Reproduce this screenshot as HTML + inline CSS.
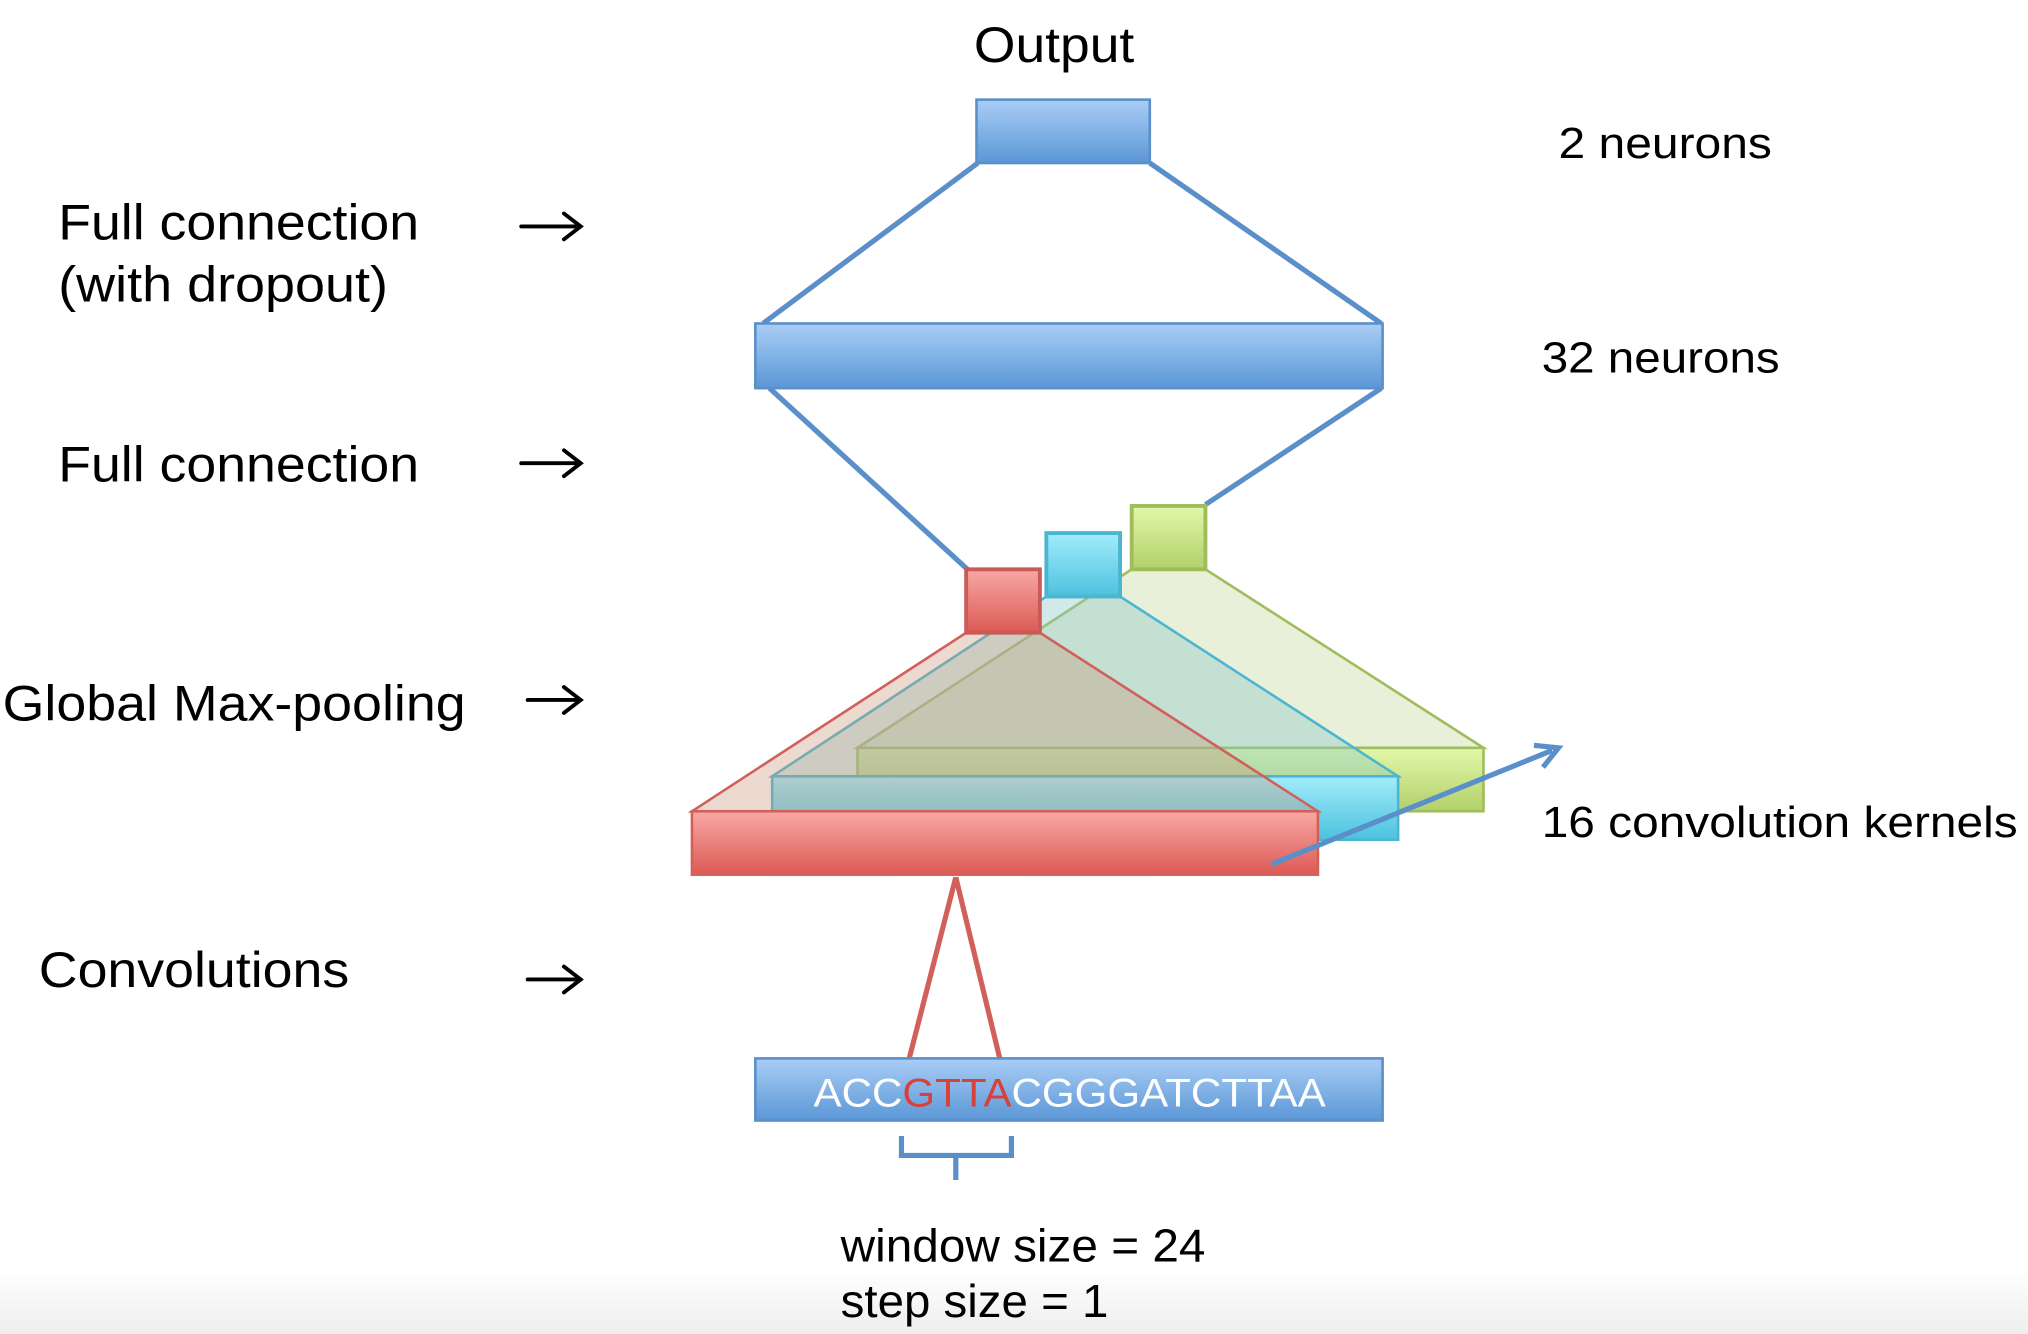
<!DOCTYPE html>
<html><head><meta charset="utf-8"><style>
html,body{margin:0;padding:0;background:#fff;}
svg{display:block;}
text{font-family:"Liberation Sans",Arial,sans-serif;}
</style></head><body>
<svg width="2028" height="1334" viewBox="0 0 1568 1031" preserveAspectRatio="none" xmlns="http://www.w3.org/2000/svg">
<defs>
<linearGradient id="gb" x1="0" y1="0" x2="0" y2="1"><stop offset="0" stop-color="#aacdf6"/><stop offset="1" stop-color="#5b97d6"/></linearGradient>
<linearGradient id="gr" x1="0" y1="0" x2="0" y2="1"><stop offset="0" stop-color="#f8a8a5"/><stop offset="1" stop-color="#dc5a54"/></linearGradient>
<linearGradient id="gc" x1="0" y1="0" x2="0" y2="1"><stop offset="0" stop-color="#a2ecfb"/><stop offset="1" stop-color="#4cc2de"/></linearGradient>
<linearGradient id="gg" x1="0" y1="0" x2="0" y2="1"><stop offset="0" stop-color="#e2f8aa"/><stop offset="1" stop-color="#b2d06a"/></linearGradient>
<linearGradient id="bot" x1="0" y1="0" x2="0" y2="1"><stop offset="0" stop-color="#fff"/><stop offset="1" stop-color="#eee"/></linearGradient>
</defs>
<rect x="0" y="980" width="1568" height="51" fill="url(#bot)"/>
<text x="753" y="48" font-size="39" textLength="124" lengthAdjust="spacingAndGlyphs">Output</text>
<text x="1205" y="122" font-size="34" textLength="165" lengthAdjust="spacingAndGlyphs">2 neurons</text>
<text x="1192" y="288" font-size="34" textLength="184" lengthAdjust="spacingAndGlyphs">32 neurons</text>
<text x="1192" y="647" font-size="34" textLength="368" lengthAdjust="spacingAndGlyphs">16 convolution kernels</text>
<text x="45" y="185" font-size="39" textLength="279" lengthAdjust="spacingAndGlyphs">Full connection</text>
<text x="45" y="233" font-size="39" textLength="255" lengthAdjust="spacingAndGlyphs">(with dropout)</text>
<text x="45" y="372" font-size="39" textLength="279" lengthAdjust="spacingAndGlyphs">Full connection</text>
<text x="2" y="557" font-size="39" textLength="358" lengthAdjust="spacingAndGlyphs">Global Max-pooling</text>
<text x="30" y="763" font-size="39" textLength="240" lengthAdjust="spacingAndGlyphs">Convolutions</text>
<g stroke="#000" stroke-width="3" fill="none" stroke-linecap="round">
<line x1="403" y1="175" x2="448" y2="175"/><path d="M436,165 L449,175 L436,185"/>
<line x1="403" y1="358" x2="448" y2="358"/><path d="M436,348 L449,358 L436,368"/>
<line x1="408" y1="541" x2="448" y2="541"/><path d="M436,531 L449,541 L436,551"/>
<line x1="408" y1="757" x2="448" y2="757"/><path d="M436,747 L449,757 L436,767"/>
</g>
<g stroke="#5a8fc9" stroke-width="4">
<line x1="756" y1="126" x2="590" y2="250"/>
<line x1="889" y1="126" x2="1068" y2="250"/>
<line x1="595" y1="300" x2="748" y2="440"/>
<line x1="1068" y1="300" x2="932" y2="390"/>
</g>
<rect x="755" y="77" width="134" height="49" fill="url(#gb)" stroke="#5a8fc9" stroke-width="2"/>
<rect x="584" y="250" width="485" height="50" fill="url(#gb)" stroke="#5a8fc9" stroke-width="2"/>
<polygon points="875,440 932,440 1147,578 663,578" fill="rgba(205,222,170,0.45)" stroke="#9fbd5a" stroke-width="2"/>
<rect x="663" y="578" width="484" height="49" fill="url(#gg)" stroke="#9fbd5a" stroke-width="2"/>
<rect x="875" y="391" width="57" height="49" fill="url(#gg)" stroke="#9fbd5a" stroke-width="3"/>
<polygon points="809,461 866,461 1081,600 597,600" fill="rgba(140,200,200,0.4)" stroke="#4cb5d0" stroke-width="2"/>
<rect x="597" y="600" width="484" height="49" fill="url(#gc)" stroke="#4cb5d0" stroke-width="2"/>
<rect x="809" y="412" width="57" height="49" fill="url(#gc)" stroke="#4cb5d0" stroke-width="3"/>
<polygon points="747,489 804,489 1019,627 535,627" fill="rgba(200,150,120,0.35)" stroke="#d2605a" stroke-width="2"/>
<rect x="535" y="627" width="484" height="49" fill="url(#gr)" stroke="#d2605a" stroke-width="2"/>
<rect x="747" y="440" width="57" height="49" fill="url(#gr)" stroke="#c95a55" stroke-width="3"/>
<line x1="983" y1="668" x2="1200" y2="580" stroke="#5a8fc9" stroke-width="4"/>
<path d="M1186,576 L1205,578 L1193,593" fill="none" stroke="#5a8fc9" stroke-width="4"/>
<g stroke="#d2605a" stroke-width="4"><line x1="739" y1="678" x2="703" y2="818"/><line x1="739" y1="678" x2="773" y2="818"/></g>
<rect x="584" y="818" width="485" height="48" fill="url(#gb)" stroke="#5a8fc9" stroke-width="2"/>
<text x="629" y="855" font-size="31" fill="#fff" textLength="396" lengthAdjust="spacingAndGlyphs">ACC<tspan fill="#d9403a">GTTA</tspan>CGGGATCTTAA</text>
<path d="M697,878 L697,893 L739,893 L739,912 M739,893 L782,893 L782,878" fill="none" stroke="#5a8fc9" stroke-width="4"/>
<text x="650" y="975" font-size="36" textLength="282" lengthAdjust="spacingAndGlyphs">window size = 24</text>
<text x="650" y="1018" font-size="36" textLength="207" lengthAdjust="spacingAndGlyphs">step size = 1</text>
</svg>
</body></html>
